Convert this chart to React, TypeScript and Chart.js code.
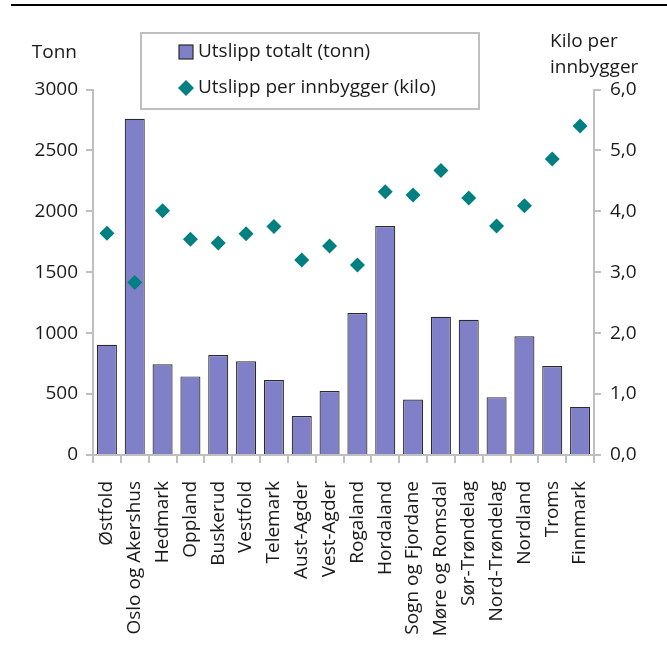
import React, { useEffect, useRef } from "react";
import { Chart, registerables } from "chart.js";

Chart.register(...registerables);

// Counties
const regions = [
  "Østfold",
  "Oslo og Akershus",
  "Hedmark",
  "Oppland",
  "Buskerud",
  "Vestfold",
  "Telemark",
  "Aust-Agder",
  "Vest-Agder",
  "Rogaland",
  "Hordaland",
  "Sogn og Fjordane",
  "Møre og Romsdal",
  "Sør-Trøndelag",
  "Nord-Trøndelag",
  "Nordland",
  "Troms",
  "Finnmark",
];

// Total emissions (tonnes), left axis
const totalTonn = [905, 2760, 745, 645, 820, 770, 615, 320, 525, 1165, 1880, 455, 1135, 1110, 475, 975, 730, 395];

// Emissions per inhabitant (kg), right axis
const perInnbygger = [3.64, 2.83, 4.01, 3.54, 3.48, 3.63, 3.75, 3.2, 3.43, 3.12, 4.32, 4.27, 4.67, 4.22, 3.76, 4.09, 4.86, 5.4];

const seriesLabels = ["Utslipp totalt (tonn)", "Utslipp per innbygger (kilo)"];
const leftTitle = "Tonn";
const rightTitle = ["Kilo per", "innbygger"];

const FONT = "'Open Sans', 'Noto Sans', sans-serif";
const FONT_SIZE = 19;
const TEXT = "#1a1a1a";
const AXIS = "#bfbfbf";
const BAR_FILL = "#8080c8";
const BAR_EDGE = "#2a2a2a";
const DOT = "#008080";

const W = 667;
const H = 646;
const PLOT_LEFT = 93;
const PLOT_RIGHT = 594;
const PLOT_TOP = 89.5;
const PLOT_BOTTOM = 455;

const decorations = {
  id: "decorations",
  afterDraw(chart: any) {
    const ctx = chart.ctx as CanvasRenderingContext2D;
    ctx.save();

    // rule across the top
    ctx.fillStyle = "#000";
    ctx.fillRect(11, 4, W - 11, 2);

    ctx.font = `${FONT_SIZE}px ${FONT}`;
    ctx.fillStyle = TEXT;
    ctx.textBaseline = "middle";

    // axis titles
    ctx.textAlign = "right";
    ctx.fillText(leftTitle, 77, 53);
    ctx.textAlign = "left";
    ctx.fillText(rightTitle[0], 550, 42);
    ctx.fillText(rightTitle[1], 550, 68);

    // legend box
    const bx = 141, by = 33, bw = 338, bh = 76;
    ctx.fillStyle = "#fff";
    ctx.fillRect(bx, by, bw, bh);
    ctx.strokeStyle = AXIS;
    ctx.lineWidth = 2;
    ctx.strokeRect(bx, by, bw, bh);

    // bar swatch
    ctx.fillStyle = BAR_FILL;
    ctx.fillRect(179, 45, 14, 14);
    ctx.strokeStyle = BAR_EDGE;
    ctx.lineWidth = 1.2;
    ctx.strokeRect(179, 45, 14, 14);

    // diamond swatch
    const cx = 186, cy = 88, r = 8;
    ctx.fillStyle = DOT;
    ctx.beginPath();
    ctx.moveTo(cx, cy - r);
    ctx.lineTo(cx + r, cy);
    ctx.lineTo(cx, cy + r);
    ctx.lineTo(cx - r, cy);
    ctx.closePath();
    ctx.fill();

    ctx.fillStyle = TEXT;
    ctx.textAlign = "left";
    ctx.fillText(seriesLabels[0], 198, 52);
    ctx.fillText(seriesLabels[1], 198, 88);

    ctx.restore();
  },
};

export default function App() {
  const canvasRef = useRef<HTMLCanvasElement | null>(null);

  useEffect(() => {
    const canvas = canvasRef.current;
    if (!canvas) return;

    Chart.defaults.font.family = FONT;
    Chart.defaults.font.size = FONT_SIZE;
    Chart.defaults.color = TEXT;

    const chart = new Chart(canvas, {
      type: "bar",
      data: {
        labels: regions,
        datasets: [
          {
            type: "line",
            label: seriesLabels[1],
            data: perInnbygger,
            yAxisID: "y1",
            showLine: false,
            pointStyle: "rectRot",
            pointRadius: 7.5,
            pointBackgroundColor: DOT,
            pointBorderColor: DOT,
            pointBorderWidth: 0,
            order: 0,
          },
          {
            type: "bar",
            label: seriesLabels[0],
            data: totalTonn,
            yAxisID: "y",
            backgroundColor: BAR_FILL,
            borderColor: BAR_EDGE,
            borderWidth: 1.2,
            barPercentage: 0.72,
            categoryPercentage: 1,
            order: 1,
          },
        ] as any,
      },
      options: {
        responsive: false,
        animation: false,
        events: [],
        layout: { padding: { top: PLOT_TOP, left: 0, right: 0, bottom: 0 } },
        plugins: {
          legend: { display: false },
          tooltip: { enabled: false },
        },
        scales: {
          x: {
            grid: {
              offset: true,
              drawOnChartArea: false,
              drawTicks: true,
              tickLength: 8,
              color: AXIS,
              lineWidth: 2,
            },
            border: { color: AXIS, width: 2 },
            ticks: {
              autoSkip: false,
              maxRotation: 90,
              minRotation: 90,
              padding: 18,
              color: TEXT,
              font: { size: FONT_SIZE, family: FONT },
            },
            afterFit(scale: any) {
              scale.height = H - PLOT_BOTTOM;
            },
          },
          y: {
            position: "left",
            min: 0,
            max: 3000,
            ticks: {
              stepSize: 500,
              padding: 8,
              color: TEXT,
              font: { size: FONT_SIZE, family: FONT },
              callback: (v: any) => String(v),
            },
            grid: {
              drawOnChartArea: false,
              drawTicks: true,
              tickLength: 7,
              color: AXIS,
              lineWidth: 2,
            },
            border: { color: AXIS, width: 2 },
            afterFit(scale: any) {
              scale.width = PLOT_LEFT;
            },
          },
          y1: {
            position: "right",
            min: 0,
            max: 6,
            ticks: {
              stepSize: 1,
              padding: 9,
              color: TEXT,
              font: { size: FONT_SIZE, family: FONT },
              callback: (v: any) => Number(v).toFixed(1).replace(".", ","),
            },
            grid: {
              drawOnChartArea: false,
              drawTicks: true,
              tickLength: 7,
              color: AXIS,
              lineWidth: 2,
            },
            border: { color: AXIS, width: 2 },
            afterFit(scale: any) {
              scale.width = W - PLOT_RIGHT;
            },
          },
        },
      } as any,
      plugins: [decorations],
    });

    return () => chart.destroy();
  }, []);

  return (
    <div style={{ position: "absolute", left: 0, top: 0, width: W, height: H, background: "#fff" }}>
      <canvas ref={canvasRef} width={W} height={H} style={{ display: "block", width: W, height: H }} />
    </div>
  );
}
